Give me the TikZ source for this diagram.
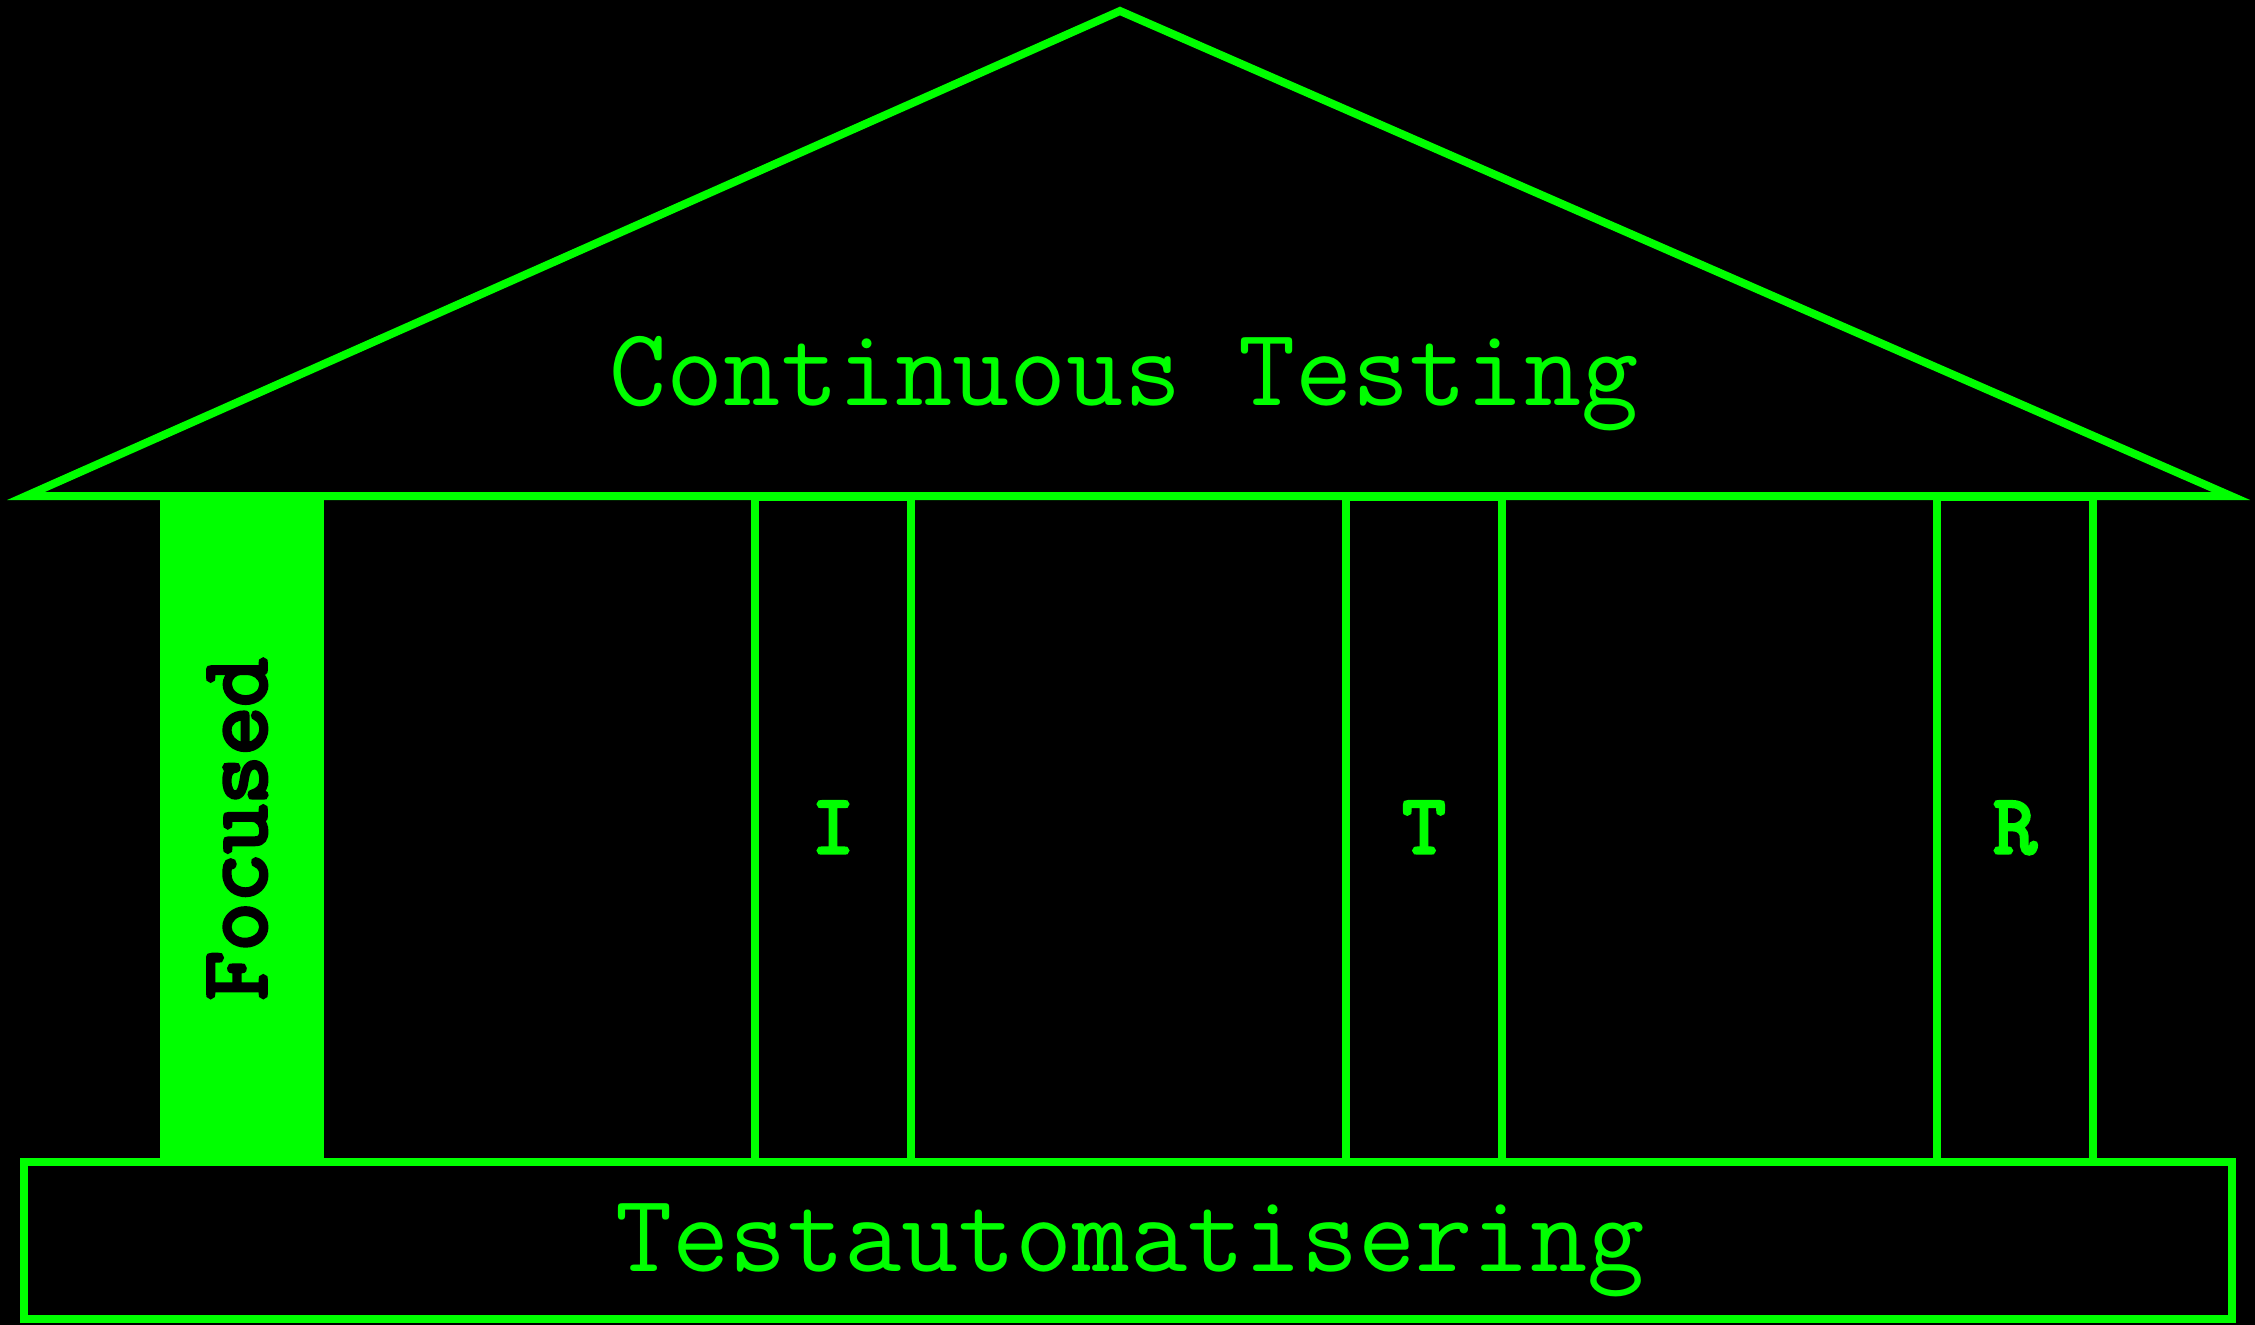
\documentclass[tikz,border=0pt]{standalone}
\usepackage{fontspec}
\newfontfamily\lmboldmono[FakeBold=4]{Latin Modern Mono}
\definecolor{grn}{RGB}{0,255,0}
\begin{document}
\begin{tikzpicture}[x=1pt,y=-1pt,
  line width=8pt,
  pillar/.style={draw=grn, minimum width=156pt, minimum height=665pt, inner sep=0pt, outer sep=0pt},
  focpillar/.style={pillar, fill=grn},
  basebox/.style={draw=grn, minimum width=2208pt, minimum height=157pt, inner sep=0pt, outer sep=0pt},
  bigtext/.style={text=grn, font=\ttfamily\fontsize{111}{111}\selectfont, inner sep=0pt, anchor=base},
  pilltext/.style={text=grn, font=\lmboldmono\fontsize{84}{84}\selectfont, inner sep=0pt, anchor=base},
  foctext/.style={text=black, font=\lmboldmono\fontsize{95}{95}\selectfont, inner sep=0pt, anchor=base, rotate=90}
]
\fill[black] (0,0) rectangle (2255,1325);
\useasboundingbox (0,0) rectangle (2255,1325);
% roof
\coordinate (rl) at (26,496);
\coordinate (ra) at (1120,11);
\coordinate (rr) at (2231,496);
\draw[grn, line join=miter] (rl) -- (ra) -- (rr) -- cycle;
\node[bigtext] (ct) at (1124,405) {Continuous Testing};
% pillars
\node[focpillar] (pF) at (242,829.5) {};
\node[pillar] (pI) at (833,829.5) {};
\node[pillar] (pT) at (1424,829.5) {};
\node[pillar] (pR) at (2015,829.5) {};
\node[foctext] (tF) at (266,829) {Focused};
\node[pilltext] (tI) at (833,853) {I};
\node[pilltext] (tT) at (1424,853) {T};
\node[pilltext] (tR) at (2015,853) {R};
% base
\node[basebox] (base) at (1128,1240.5) {};
\node[bigtext] (ta) at (1130,1271) {Testautomatisering};
\end{tikzpicture}
\end{document}
